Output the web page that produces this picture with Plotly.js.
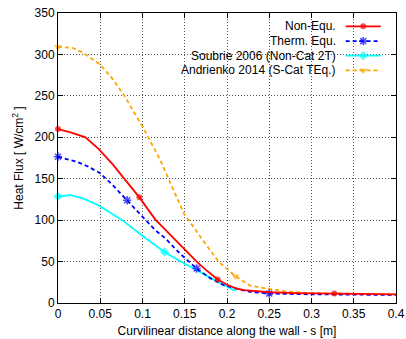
<!DOCTYPE html>
<html><head><meta charset="utf-8">
<script src="https://cdn.plot.ly/plotly-3.0.1.min.js"></script>
<style>html,body{margin:0;padding:0;background:#fff}#g{width:406px;height:339px}</style>
</head><body><div id="g"></div>
<script>
// ---- data ----
const seriesNames = ["Non-Equ.", "Therm. Equ.", "Soubrie 2006 (Non-Cat 2T)", "Andrienko 2014 (S-Cat TEq.)"];

const nonEquX = [0, 0.015, 0.0325, 0.048, 0.065, 0.08, 0.0963, 0.115, 0.137, 0.15, 0.165, 0.175, 0.189, 0.2, 0.21, 0.22, 0.235, 0.25, 0.28, 0.327, 0.36, 0.4];
const nonEquY = [210, 206, 200, 186, 167, 148, 127.5, 101, 78, 64, 49, 40, 28.3, 22, 18, 15.5, 14, 13, 12, 11.4, 11, 10.5];
const nonEquMarkIdx = [0, 6, 12, 19];

const thermX = [0, 0.0207, 0.035, 0.05, 0.065, 0.0818, 0.0995, 0.115, 0.127, 0.145, 0.164, 0.18, 0.195, 0.212, 0.23, 0.25, 0.3, 0.35, 0.4];
const thermY = [176.5, 171, 165, 156.5, 142, 124, 104, 88, 78, 59, 41.6, 30, 22, 17, 13, 11.4, 10.5, 10, 9.7];
const thermMarkIdx = [0, 5, 10, 15];

const soubrieX = [0, 0.015, 0.03, 0.048, 0.062, 0.076, 0.0975, 0.11, 0.126, 0.14, 0.153, 0.176, 0.192, 0.21];
const soubrieY = [128.5, 130.3, 126, 118, 109, 100, 83, 74, 61.7, 53, 45.6, 33.5, 24, 14.5];
const soubrieMarkIdx = [0, 8];

const andrX = [0, 0.0168, 0.03, 0.05, 0.065, 0.078, 0.1, 0.121, 0.135, 0.149, 0.174, 0.19, 0.21, 0.2275, 0.247, 0.27, 0.298, 0.346, 0.4];
const andrY = [309, 308, 302, 287.6, 270, 251, 213, 172.6, 140, 108, 72, 50, 32.3, 21, 17.4, 14, 12, 11, 10.5];
const andrMarkIdx = [0, 12];

const xTicks = [0, 0.05, 0.1, 0.15, 0.2, 0.25, 0.3, 0.35, 0.4];
const xTickText = ["0", "0.05", "0.1", "0.15", "0.2", "0.25", "0.3", "0.35", "0.4"];
const yTicks = [0, 50, 100, 150, 200, 250, 300, 350];

// ---- styles ----
const styles = [
  {color: "#ff0000", dash: "solid", symbol: "circle", size: 6},
  {color: "#0000ff", dash: "4px,3px", symbol: "asterisk-open", size: 7},
  {color: "#00ffff", dash: "solid", symbol: "diamond", size: 7},
  {color: "#ffa500", dash: "4px,3px", symbol: "triangle-down", size: 7}
];

function sizes(n, idx, s) { const a = new Array(n).fill(0); idx.forEach(i => a[i] = s); return a; }

const sets = [
  [nonEquX, nonEquY, nonEquMarkIdx],
  [thermX, thermY, thermMarkIdx],
  [soubrieX, soubrieY, soubrieMarkIdx],
  [andrX, andrY, andrMarkIdx]
];

const traces = [];
const drawOrder = [3, 2, 1, 0];
drawOrder.forEach(k => {
  const [x, y, mi] = sets[k];
  const st = styles[k];
  traces.push({
    x: x, y: y, type: "scatter", mode: "lines+markers", name: seriesNames[k],
    line: {color: st.color, width: 1.8, dash: st.dash},
    marker: {color: st.color, symbol: st.symbol, size: sizes(x.length, mi, st.size),
             line: {color: st.color, width: st.symbol === "asterisk-open" ? 1.6 : 0}},
    showlegend: false, cliponaxis: false
  });
});

// custom gnuplot-style legend (text on the left, sample on the right)
const legRowsY = [0.954, 0.903, 0.853, 0.802];
const shapes = [{type: "rect", xref: "paper", yref: "paper", x0: 0.243, x1: 0.998, y0: 0.776, y1: 0.998,
                 fillcolor: "#ffffff", line: {width: 0}, layer: "between"}];
const annotations = [];
seriesNames.forEach((n, k) => {
  const st = styles[k];
  annotations.push({xref: "paper", yref: "paper", x: 0.827, y: legRowsY[k], xanchor: "right", yanchor: "middle",
                    text: n, showarrow: false, font: {family: "Liberation Sans, Arial, sans-serif", size: 12, color: "#000"}});
  traces.push({x: [0.851, 0.903, 0.955], y: [legRowsY[k], legRowsY[k], legRowsY[k]], xaxis: "x2", yaxis: "y2",
               type: "scatter", mode: "lines+markers", showlegend: false, hoverinfo: "skip",
               line: {color: st.color, width: 1.8, dash: st.dash},
               marker: {color: st.color, symbol: st.symbol, size: [0, st.size, 0],
                        line: {color: st.color, width: st.symbol === "asterisk-open" ? 1.6 : 0}}});
});

const axFont = {family: "Liberation Sans, Arial, sans-serif", size: 12, color: "#000"};
const layout = {
  width: 406, height: 339,
  margin: {l: 57.5, r: 10, t: 13.3, b: 36.3},
  paper_bgcolor: "#fff", plot_bgcolor: "#fff",
  font: axFont,
  xaxis: {range: [0, 0.4], tickvals: xTicks, ticktext: xTickText, ticks: "inside", ticklen: 5, tickcolor: "#000",
          showline: true, linecolor: "#000", linewidth: 1, mirror: "ticks", zeroline: false,
          showgrid: true, gridcolor: "#555", griddash: "1px,2px", gridwidth: 1,
          tickfont: axFont, title: {text: "Curvilinear distance along the wall - s [m]", font: axFont, standoff: 6}},
  yaxis: {range: [0, 350], tickvals: yTicks, ticks: "inside", ticklen: 5, tickcolor: "#000",
          showline: true, linecolor: "#000", linewidth: 1, mirror: "ticks", zeroline: false,
          showgrid: true, gridcolor: "#555", griddash: "1px,2px", gridwidth: 1,
          tickfont: axFont, title: {text: "Heat Flux [ W/cm<sup>2</sup> ]", font: axFont, standoff: 8}},
  xaxis2: {overlaying: "x", range: [0, 1], visible: false, fixedrange: true},
  yaxis2: {overlaying: "y", range: [0, 1], visible: false, fixedrange: true},
  shapes: shapes, annotations: annotations, showlegend: false
};
Plotly.newPlot("g", traces, layout, {displayModeBar: false, staticPlot: true});
</script></body></html>
